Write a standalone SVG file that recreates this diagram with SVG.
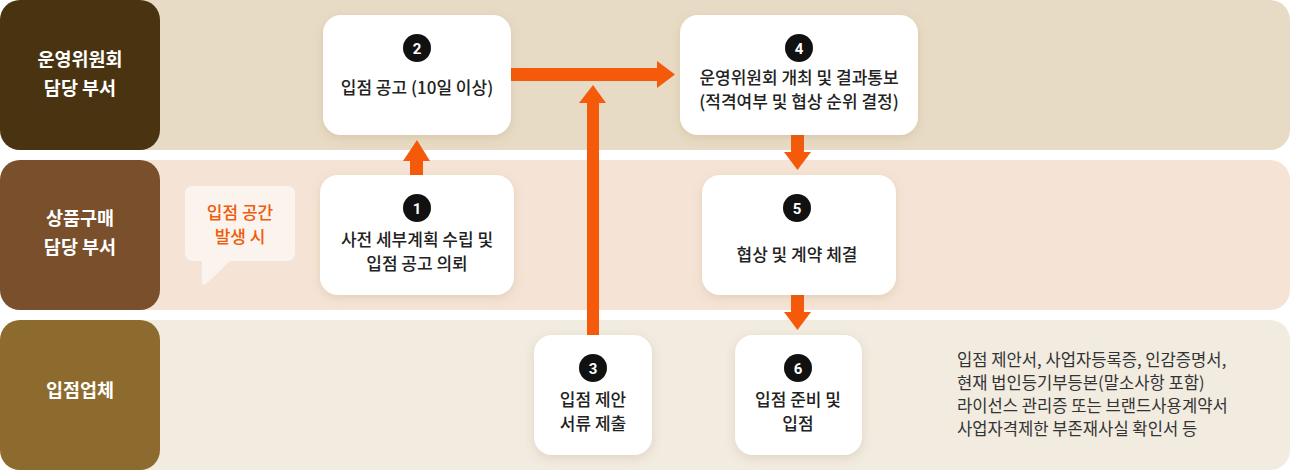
<svg xmlns="http://www.w3.org/2000/svg" width="1290" height="472" viewBox="0 0 1290 472">
<defs>
<filter id="sh" x="-20%" y="-20%" width="140%" height="150%">
<feDropShadow dx="0" dy="3" stdDeviation="5" flood-color="#8a6a40" flood-opacity="0.18"/>
</filter>
<style>
.lbl{font-family:"Noto Sans CJK KR","Noto Sans",sans-serif;font-size:18.5px;font-weight:700;fill:#fff;text-anchor:middle}
.t{font-family:"Noto Sans CJK KR","Noto Sans",sans-serif;font-size:17px;font-weight:500;fill:#222;text-anchor:middle}
.num{font-family:"Roboto","Noto Sans",sans-serif;font-size:15px;font-weight:700;fill:#fff;text-anchor:middle}
.node{fill:#fff;filter:url(#sh)}
.arr{fill:#f55a0a}
.note{font-family:"Noto Sans CJK KR","Noto Sans",sans-serif;font-size:16.6px;fill:#333}
</style>
</defs>
<g id="lanes">
<rect x="0" y="0" width="1290" height="150" rx="20" fill="#e8dbc5"/>
<rect x="0" y="0" width="160" height="150" rx="20" fill="#4a3310"/>
<rect x="0" y="160" width="1290" height="150" rx="20" fill="#f5e4d6"/>
<rect x="0" y="160" width="160" height="150" rx="20" fill="#7a4f2c"/>
<rect x="0" y="320" width="1290" height="150" rx="20" fill="#f1ebe0"/>
<rect x="0" y="320" width="160" height="150" rx="20" fill="#8d6b2e"/>
<text class="lbl" x="80" y="66">운영위원회</text>
<text class="lbl" x="80" y="95">담당 부서</text>
<text class="lbl" x="80" y="225">상품구매</text>
<text class="lbl" x="80" y="254">담당 부서</text>
<text class="lbl" x="80" y="397">입점업체</text>
</g>
<g id="connectors">
<rect class="arr" x="410" y="160" width="13" height="16"/>
<polygon class="arr" points="403,161 430,161 417,140"/>
<rect class="arr" x="511" y="68" width="147" height="13"/>
<polygon class="arr" points="657,61 657,88 675,74.5"/>
<rect class="arr" x="587" y="102" width="12" height="234"/>
<polygon class="arr" points="579,103 606,103 593,85"/>
<rect class="arr" x="791" y="134" width="13" height="19"/>
<polygon class="arr" points="784,152 811,152 797.5,170"/>
<rect class="arr" x="791" y="294" width="13" height="19"/>
<polygon class="arr" points="784,312 811,312 797.5,330"/>
</g>
<g id="bubble">
<path d="M193,186 H287 Q295,186 295,194 V253 Q295,261 287,261 H230 L207,283 Q202,287 202,281 V261 H193 Q185,261 185,253 V194 Q185,186 193,186 Z" fill="#fbf4ee"/>
<text class="t" x="240" y="219" style="fill:#f15a0a">입점 공간</text>
<text class="t" x="240" y="243" style="fill:#f15a0a">발생 시</text>
</g>
<g id="n2">
<rect class="node" x="323" y="15" width="188" height="120" rx="18"/>
<circle cx="417" cy="48" r="14" fill="#111"/>
<text class="num" x="417" y="53.5">2</text>
<text class="t" x="417" y="94">입점 공고 (10일 이상)</text>
</g>
<g id="n4">
<rect class="node" x="680" y="15" width="238" height="120" rx="18"/>
<circle cx="799" cy="48" r="14" fill="#111"/>
<text class="num" x="799" y="53.5">4</text>
<text class="t" x="799" y="84">운영위원회 개최 및 결과통보</text>
<text class="t" x="799" y="108">(적격여부 및 협상 순위 결정)</text>
</g>
<g id="n1">
<rect class="node" x="320" y="175" width="194" height="120" rx="18"/>
<circle cx="417" cy="208" r="14" fill="#111"/>
<text class="num" x="417" y="213.5">1</text>
<text class="t" x="417" y="246">사전 세부계획 수립 및</text>
<text class="t" x="417" y="270">입점 공고 의뢰</text>
</g>
<g id="n5">
<rect class="node" x="702" y="175" width="194" height="120" rx="18"/>
<circle cx="797" cy="208" r="14" fill="#111"/>
<text class="num" x="797" y="213.5">5</text>
<text class="t" x="797" y="261">협상 및 계약 체결</text>
</g>
<g id="n3">
<rect class="node" x="534" y="335" width="118" height="120" rx="18"/>
<circle cx="593" cy="368" r="14" fill="#111"/>
<text class="num" x="593" y="373.5">3</text>
<text class="t" x="593" y="406">입점 제안</text>
<text class="t" x="593" y="430">서류 제출</text>
</g>
<g id="n6">
<rect class="node" x="735" y="335" width="127" height="120" rx="18"/>
<circle cx="798" cy="368" r="14" fill="#111"/>
<text class="num" x="798" y="373.5">6</text>
<text class="t" x="798" y="406">입점 준비 및</text>
<text class="t" x="798" y="430">입점</text>
</g>
<g id="note">
<text class="note" x="957" y="366">입점 제안서, 사업자등록증, 인감증명서,</text>
<text class="note" x="957" y="389">현재 법인등기부등본(말소사항 포함)</text>
<text class="note" x="957" y="412">라이선스 관리증 또는 브랜드사용계약서</text>
<text class="note" x="957" y="435">사업자격제한 부존재사실 확인서 등</text>
</g>
</svg>
